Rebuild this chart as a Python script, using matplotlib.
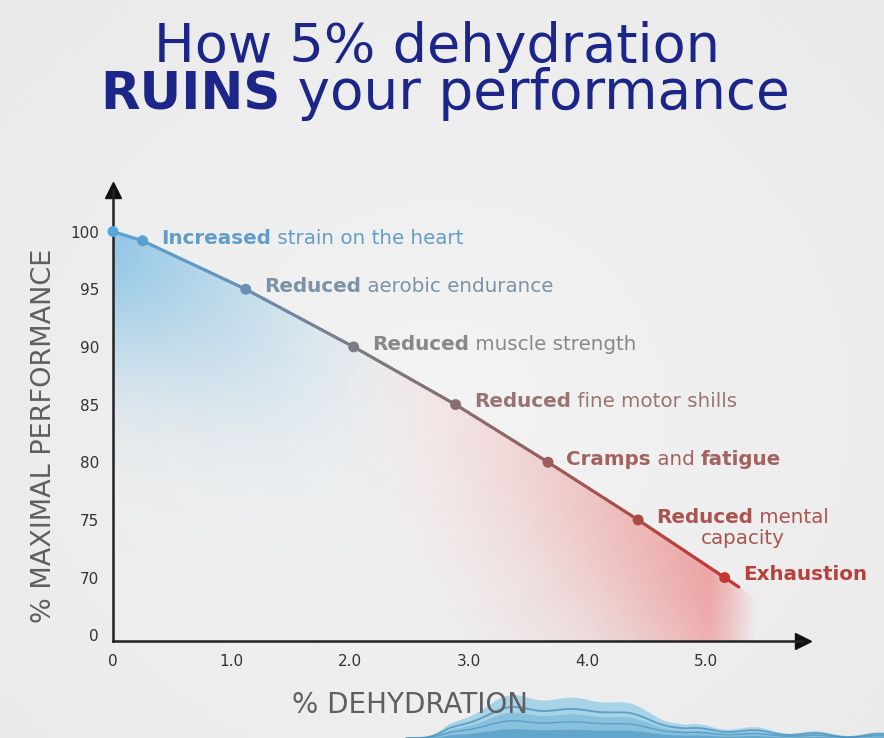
import numpy as np
import matplotlib
matplotlib.use("Agg")
import matplotlib.pyplot as plt
from matplotlib.collections import LineCollection
from matplotlib.colors import LinearSegmentedColormap
from matplotlib.patches import Polygon
from matplotlib.transforms import Bbox

plt.rcParams['font.family'] = ['DejaVu Sans']

# data
dehydration = [0.0, 0.25, 1.12, 2.03, 2.89, 3.67, 4.43, 5.16]
performance = [100.0, 99.2, 95.0, 90.0, 85.0, 80.0, 75.0, 70.0]
bold_parts = [None, "Increased", "Reduced", "Reduced", "Reduced", "Cramps", "Reduced", "Exhaustion"]
rest_parts = [None, " strain on the heart", " aerobic endurance", " muscle strength",
              " fine motor shills", " and ", " mental", ""]
x_ticks = [0, 1, 2, 3, 4, 5]
x_tick_labels = ["0", "1.0", "2.0", "3.0", "4.0", "5.0"]
y_ticks = [65, 70, 75, 80, 85, 90, 95, 100]
y_tick_labels = ["0", "70", "75", "80", "85", "90", "95", "100"]

grad = LinearSegmentedColormap.from_list(
    "dehyd", ["#55a6db", "#6a90b4", "#7b7b82", "#8d6a6a", "#a8504b", "#c8332f"])
text_grad = LinearSegmentedColormap.from_list(
    "dehyd_txt", ["#5aa0cf", "#7a93aa", "#8b8686", "#9c6f6d", "#a65a56", "#b6423d"])

xs = np.array(dehydration)
ys = np.array(performance)
xmax_pt = xs[-1]

fig = plt.figure(figsize=(8.84, 7.38), dpi=100)

# background
bg = fig.add_axes([0, 0, 1, 1])
bg.set_axis_off()
gx, gy = np.meshgrid(np.linspace(-1, 1, 200), np.linspace(-1, 1, 200))
r = np.sqrt((gx * 1.1) ** 2 + (gy + 0.1) ** 2)
shade = 0.955 - 0.025 * np.clip(r, 0, 1.4)
bg.imshow(np.dstack([shade, shade, shade]), extent=[0, 1, 0, 1],
          aspect='auto', origin='lower')
bg.set_xlim(0, 1)
bg.set_ylim(0, 1)

# water splash at the bottom (decoration)
wx = np.linspace(0.46, 1.0, 300)
peak = 0.05 * np.exp(-((wx - 0.68) / 0.09) ** 2)
shoulder = 0.042 * np.exp(-((wx - 0.57) / 0.06) ** 2)
tail = 0.016 * np.clip((1.0 - wx) / 0.2, 0.3, 1) * (wx > 0.72)
top = np.maximum(peak + shoulder, tail) + 0.003 * np.sin(wx * 90)
top = np.clip(top * np.clip((wx - 0.468) / 0.04, 0, 1), 0, None)
splash = Polygon(np.column_stack([np.r_[wx, wx[::-1]], np.r_[top, np.zeros_like(wx)]]),
                 closed=True, facecolor="#a6d3e8", edgecolor="none", alpha=0.95)
bg.add_patch(splash)
bg.fill_between(wx, 0, top * 0.6, color="#6eb2d6", alpha=0.55, lw=0)
bg.plot(wx, top * 0.72, color="#2f7fb0", lw=1.4, alpha=0.6)
bg.plot(wx, top * 0.4, color="#2f7fb0", lw=1.0, alpha=0.5)
bg.fill_between(wx, 0, top * 0.22, color="#2f7fb0", alpha=0.4, lw=0)

# main axes
ax = fig.add_axes([0.1278, 0.1314, 0.7805, 0.6111])
ax.set_facecolor("none")
ax.set_xlim(0, 5.82)
ax.set_ylim(64.5, 103.6)

# gradient fill under the curve
ex = np.linspace(0, 5.5, 400)
ey = np.linspace(64.5, 100.5, 300)
EX, EY = np.meshgrid(ex, ey)
slope = (ys[-1] - ys[-2]) / (xs[-1] - xs[-2])
line_y = np.interp(EX, xs, ys)
line_y = np.where(EX > xmax_pt, ys[-1] + slope * (EX - xmax_pt), line_y)
d = np.clip(line_y - EY, 0, None)

blue = np.zeros(EX.shape + (4,))
blue[..., 0], blue[..., 1], blue[..., 2] = 0.50, 0.75, 0.90
blue[..., 3] = 0.82 * np.clip(1 - EX / 2.6, 0, 1) ** 1.4 * np.exp(-(d / 12.0) ** 2)

red = np.zeros(EX.shape + (4,))
red[..., 0], red[..., 1], red[..., 2] = 0.93, 0.46, 0.46
red_w = np.clip((EX - 1.6) / 3.6, 0, 1) ** 1.6
right_fade = np.clip((5.42 - EX) / 0.4, 0, 1)
red[..., 3] = 0.66 * red_w * np.exp(-(d / 15.0) ** 2) * right_fade

ext = 0.3
clip_x = np.r_[xs, xmax_pt + ext, xmax_pt + ext, 0]
clip_y = np.r_[ys, ys[-1] + slope * ext, 64.5, 64.5]
clip_poly = Polygon(np.column_stack([clip_x, clip_y]), closed=True,
                    transform=ax.transData, facecolor="none", edgecolor="none")
ax.add_patch(clip_poly)
for layer in (blue, red):
    im = ax.imshow(layer, extent=[0, 5.5, 64.5, 100.5], origin='lower',
                   aspect='auto', interpolation='bilinear', zorder=1)
    im.set_clip_path(clip_poly)

# gradient line, extended a little past the last point
lx = np.r_[xs, xmax_pt + 0.12]
ly = np.r_[ys, ys[-1] + slope * 0.12]
fine_x = np.linspace(lx[0], lx[-1], 300)
fine_y = np.interp(fine_x, lx, ly)
pts = np.column_stack([fine_x, fine_y]).reshape(-1, 1, 2)
segs = np.concatenate([pts[:-1], pts[1:]], axis=1)
lc = LineCollection(segs, colors=grad(fine_x[:-1] / lx[-1]), linewidths=2.2, zorder=3,
                    capstyle='round')
ax.add_collection(lc)

ax.scatter(xs, ys, s=62, c=grad(xs / lx[-1]), zorder=4, edgecolors='none', clip_on=False)

# labels with bold lead words
fs = 14.3
for i in range(1, len(xs)):
    col = text_grad(xs[i] / xmax_pt)
    t1 = ax.annotate(bold_parts[i], xy=(xs[i], ys[i]), xytext=(13, 2),
                     textcoords='offset points', ha='left', va='center',
                     fontsize=fs, fontweight='bold', color=col, zorder=5)
    if rest_parts[i]:
        t2 = ax.annotate(rest_parts[i], xy=(1, 0), xycoords=t1, ha='left', va='bottom',
                         fontsize=fs, color=col, zorder=5)
        if bold_parts[i] == "Cramps":
            ax.annotate("fatigue", xy=(1, 0), xycoords=t2, ha='left', va='bottom',
                        fontsize=fs, fontweight='bold', color=col, zorder=5)
        if rest_parts[i] == " mental":
            pair = (t1, t2)
            ax.annotate("capacity", xy=(0.5, -0.1),
                        xycoords=lambda r, p=pair: Bbox.union([a.get_window_extent(r) for a in p]),
                        ha='center', va='top', fontsize=fs, color=col, zorder=5)

# axes styling
for s in ("top", "right"):
    ax.spines[s].set_visible(False)
for s in ("left", "bottom"):
    ax.spines[s].set_color("#222222")
    ax.spines[s].set_linewidth(1.8)
ax.plot([1], [0], marker=">", ms=11, color="#111111", transform=ax.transAxes, clip_on=False)
ax.plot([0], [1], marker="^", ms=11, color="#111111", transform=ax.transAxes, clip_on=False)

ax.set_xticks(x_ticks)
ax.set_xticklabels(x_tick_labels)
ax.set_yticks(y_ticks)
ax.set_yticklabels(y_tick_labels)
ax.tick_params(length=0, labelsize=11, colors="#333333")
ax.tick_params(axis='x', pad=9)
ax.tick_params(axis='y', pad=10)

fig.text(0.050, 0.41, "% MAXIMAL PERFORMANCE", rotation=90, ha='center', va='center',
         fontsize=19.5, color="#5f5f5f")
fig.text(0.464, 0.045, "% DEHYDRATION", ha='center', va='center',
         fontsize=20, color="#5f5f5f", zorder=1)

# title
navy = "#1c2688"
fig.text(0.494, 1 - 62 / 738, "How 5% dehydration", ha='center', va='baseline',
         fontsize=39, color=navy)
tb = fig.text(100 / 884, 1 - 110 / 738, "RUINS", ha='left', va='baseline', fontsize=37,
              color=navy, fontweight='bold')
plt.annotate(" your performance", xy=(1, 0), xycoords=tb, ha='left', va='bottom',
             fontsize=39.5, color=navy)

fig.savefig("out.png", dpi=100)
